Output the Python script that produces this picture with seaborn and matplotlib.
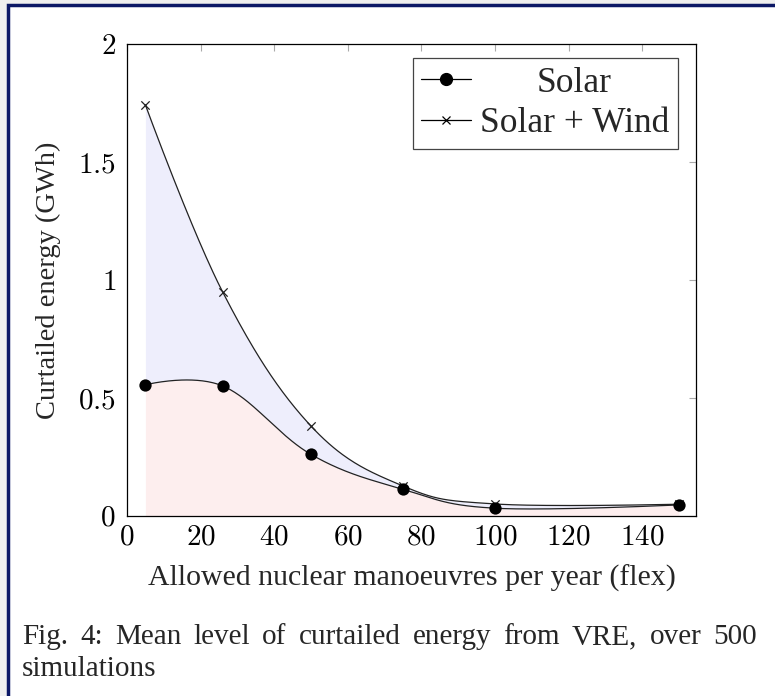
import numpy as np
import pandas as pd
import matplotlib
matplotlib.use("Agg")
import matplotlib.pyplot as plt
import seaborn as sns
from matplotlib.lines import Line2D
from matplotlib.patches import Rectangle
from matplotlib.ticker import FuncFormatter, MultipleLocator

# data
flex = [5, 26, 50, 75, 100, 150]
solar = [0.556, 0.551, 0.261, 0.113, 0.033, 0.047]
solar_wind = [1.742, 0.949, 0.381, 0.127, 0.051, 0.050]

caption1 = "Fig. 4: Mean level of curtailed energy from VRE, over 500"
caption2 = "simulations"


def smooth(x, y, tension=0.55, n=60):
    # pgfplots "smooth": cubic bezier pieces through the points
    p = np.column_stack([x, y]).astype(float)
    t = tension / 3
    s = np.linspace(0, 1, n)[:, None]
    out = []
    for i in range(len(p) - 1):
        a, b = p[i], p[i + 1]
        c1 = a if i == 0 else a + t * (p[i + 1] - p[i - 1])
        c2 = b if i == len(p) - 2 else b - t * (p[i + 2] - p[i])
        seg = (1 - s) ** 3 * a + 3 * (1 - s) ** 2 * s * c1 + 3 * (1 - s) * s ** 2 * c2 + s ** 3 * b
        out.append(seg if i == 0 else seg[1:])
    out = np.vstack(out)
    return out[:, 0], out[:, 1]


df = pd.DataFrame({"flex": flex, "Solar": solar, "Solar + Wind": solar_wind})

sns.set_theme(style="white")
plt.rcParams["font.family"] = ["Liberation Serif", "DejaVu Serif"]
plt.rcParams["mathtext.fontset"] = "cm"

W, H = 775, 696
fig = plt.figure(figsize=(W / 100, H / 100), dpi=100, facecolor="#efefef")
fig.patches.append(Rectangle((8 / W, -0.1), 1.2, 1.1 - 5 / H, transform=fig.transFigure,
                             facecolor="white", edgecolor="#0c1866", lw=2.5, zorder=-5))

ax = fig.add_axes([127 / W, 1 - 516 / H, (696 - 127) / W, (516 - 44) / H])

xs, ys_s = smooth(df["flex"], df["Solar"])
_, ys_sw = smooth(df["flex"], df["Solar + Wind"])

ax.fill_between(xs, 0, ys_s, color="#fdeeee", lw=0, zorder=1)
ax.fill_between(xs, ys_s, ys_sw, color="#eeeefc", lw=0, zorder=1)

sns.lineplot(x=xs, y=ys_sw, color="#222222", lw=0.9, ax=ax, sort=False, zorder=3)
sns.lineplot(x=xs, y=ys_s, color="#222222", lw=0.9, ax=ax, sort=False, zorder=3)
sns.scatterplot(data=df, x="flex", y="Solar + Wind", marker="x", s=36, color="#222222",
                linewidth=0.9, ax=ax, zorder=4)
sns.scatterplot(data=df, x="flex", y="Solar", marker="o", s=78, color="black",
                linewidth=0, ax=ax, zorder=5)

ax.set_xlim(0, 154.6)
ax.set_ylim(0, 2)
ax.xaxis.set_major_locator(MultipleLocator(20))
ax.yaxis.set_major_locator(MultipleLocator(0.5))
fmt = FuncFormatter(lambda v, p: f"${v:g}$")
ax.xaxis.set_major_formatter(fmt)
ax.yaxis.set_major_formatter(fmt)
ax.tick_params(axis="both", direction="in", top=True, right=True, length=5, width=0.8,
               color="#aaaaaa", labelsize=21, labelcolor="black")
ax.tick_params(axis="x", pad=6)
ax.tick_params(axis="y", pad=8)
for sp in ax.spines.values():
    sp.set_color("black")
    sp.set_linewidth(0.9)
    sp.set_zorder(6)

ax.set_xlabel("Allowed nuclear manoeuvres per year (flex)", fontsize=21.5, labelpad=10)
ax.set_ylabel("Curtailed energy (GWh)", fontsize=20.5, labelpad=12)

handles = [
    Line2D([], [], color="black", lw=0.9, marker="o", ms=8.5),
    Line2D([], [], color="black", lw=0.9, marker="x", ms=5.5, mew=0.9),
]
leg = ax.legend(handles, ["Solar", "Solar + Wind"], loc="upper right",
                bbox_to_anchor=(678 / W, 1 - 58 / H), bbox_transform=fig.transFigure,
                fontsize=25.5, frameon=True, fancybox=False, framealpha=1,
                edgecolor="#444444", handlelength=1.4, handletextpad=0.25,
                labelspacing=0.2, borderpad=0.25, borderaxespad=0)
leg.get_frame().set_linewidth(0.9)

# caption, justified on the first line
y1 = 1 - 644 / H
y2 = 1 - 676 / H
words = caption1.split()
tw = [fig.text(22 / W, y1, w, fontsize=21, va="baseline") for w in words]
fig.text(22 / W, y2, caption2, fontsize=21, va="baseline")

fig.canvas.draw()
r = fig.canvas.get_renderer()
widths = [t.get_window_extent(r).width for t in tw]
gap = (757 - 22 - sum(widths)) / (len(words) - 1)
x = 22
for t, w in zip(tw, widths):
    t.set_x(x / W)
    x += w + gap

# centre the shorter legend entry like pgfplots
lt = leg.get_texts()
w0 = lt[0].get_window_extent(r).width
w1 = lt[1].get_window_extent(r).width
lt[0].set_position(((w1 - w0) / 2, 0))

fig.savefig("out.png", dpi=100, facecolor=fig.get_facecolor())
